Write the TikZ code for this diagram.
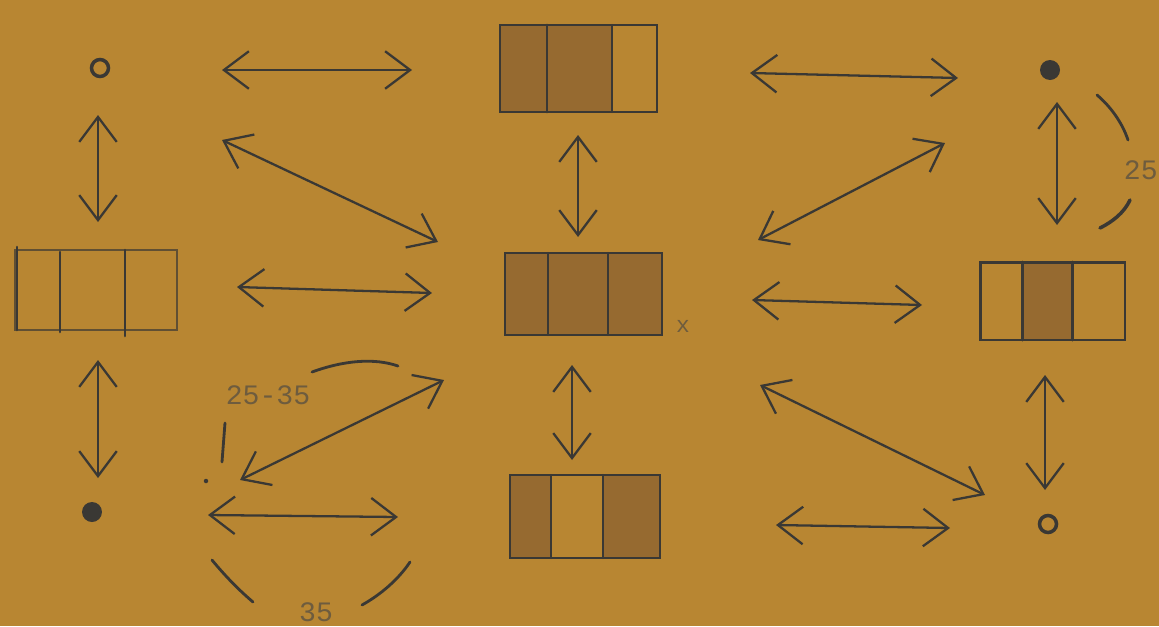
\documentclass[tikz,border=0pt]{standalone}
\usepackage{fontspec}
\setmonofont{Liberation Mono}
\usetikzlibrary{arrows.meta}
\definecolor{paper}{RGB}{184,134,50}
\definecolor{pencil}{RGB}{58,56,52}
\definecolor{cellfill}{RGB}{150,106,48}
\definecolor{typo}{RGB}{110,92,62}
\begin{document}
\begin{tikzpicture}[x=0.02cm,y=-0.02cm,
  pen/.style={draw=pencil, line width=1.2pt, line cap=round, line join=round},
  dbl/.style={pen, line width=1.3pt, {Straight Barb[length=5mm,width=7.5mm]}-{Straight Barb[length=5mm,width=7.5mm]}},
  opendot/.style={circle, draw=pencil, line width=2pt, inner sep=0pt, minimum size=0.34cm},
  fulldot/.style={circle, fill=pencil, inner sep=0pt, minimum size=0.4cm},
  cellbox/.style={draw=pencil, line width=1.3pt, inner sep=0pt},
  lbl/.style={text=typo, font=\fontsize{16}{16}\selectfont\ttfamily, inner sep=0pt},
  arcseg/.style={pen, line width=1.6pt}]
\useasboundingbox (0,0) rectangle (1159,626);
\fill[paper] (0,0) rectangle (1159,626);

% ---- corner dots ----
\node[opendot] (TL) at (100,68) {};
\node[fulldot] (TR) at (1050,70) {};
\node[fulldot] (BL) at (92,512) {};
\node[opendot] (BR) at (1048,524) {};

% ---- top centre box ----
\fill[cellfill] (500,25) rectangle (612,112);
\node[cellbox, minimum width=3.14cm, minimum height=1.74cm] (BT) at (578.5,68.5) {};
\draw[pen, line width=1.6pt] (547,25) -- (547,112);
\draw[pen] (612,25) -- (612,112);

% ---- middle left box ----
\node[draw=pencil!70!paper, line width=0.6pt, inner sep=0pt, minimum width=3.24cm, minimum height=1.6cm] (BL2) at (96,290) {};
\draw[pen, line width=1.5pt] (17,247) -- (17,330);
\draw[pen, line width=1.5pt] (60,252) -- (60,332);
\draw[pen, line width=1.5pt] (125,250) -- (125,336);

% ---- middle centre box ----
\fill[cellfill] (505,253) rectangle (662,335);
\node[cellbox, minimum width=3.14cm, minimum height=1.64cm] (BM) at (583.5,294) {};
\draw[pen] (548,253) -- (548,335);
\draw[pen] (608,253) -- (608,335);
\node[lbl, font=\fontsize{13}{13}\selectfont\ttfamily] (X) at (683,326) {x};

% ---- middle right box ----
\fill[cellfill] (1022,262) rectangle (1072,340);
\node[cellbox, line width=1.7pt, minimum width=2.9cm, minimum height=1.56cm] (BRt) at (1052.5,301) {};
\draw[pen, line width=1.7pt] (1022,262) -- (1022,340);
\draw[pen, line width=1.7pt] (1072,262) -- (1072,340);

% ---- bottom centre box ----
\fill[cellfill] (510,475) rectangle (551,558);
\fill[cellfill] (603,475) rectangle (660,558);
\node[cellbox, minimum width=3cm, minimum height=1.66cm] (BB) at (585,516.5) {};
\draw[pen] (551,475) -- (551,558);
\draw[pen] (603,475) -- (603,558);

% ---- arrow end points ----
\coordinate (a1) at (222,70);   \coordinate (a2) at (412,70);
\coordinate (b1) at (750,73);   \coordinate (b2) at (958,78);
\coordinate (c1) at (98,115);   \coordinate (c2) at (98,222);
\coordinate (d1) at (578,135);  \coordinate (d2) at (578,237);
\coordinate (e1) at (1057,102); \coordinate (e2) at (1057,225);
\coordinate (f1) at (222,140);  \coordinate (f2) at (438,242);
\coordinate (g1) at (945,143);  \coordinate (g2) at (758,240);
\coordinate (h1) at (237,287);  \coordinate (h2) at (432,293);
\coordinate (i1) at (752,300);  \coordinate (i2) at (922,305);
\coordinate (j1) at (98,360);   \coordinate (j2) at (98,478);
\coordinate (k1) at (444,380);  \coordinate (k2) at (240,480);
\coordinate (l1) at (572,365);  \coordinate (l2) at (572,460);
\coordinate (m1) at (760,385);  \coordinate (m2) at (985,495);
\coordinate (n1) at (1045,375); \coordinate (n2) at (1045,490);
\coordinate (o1) at (208,515);  \coordinate (o2) at (398,517);
\coordinate (p1) at (776,525);  \coordinate (p2) at (950,528);

\foreach \s/\t in {a1/a2,b1/b2,c1/c2,d1/d2,e1/e2,f1/f2,g1/g2,h1/h2,i1/i2,j1/j2,k1/k2,l1/l2,m1/m2,n1/n2,o1/o2,p1/p2}
  \draw[dbl] (\s) -- (\t);

% ---- angle arcs and labels ----
\node[lbl] (L1) at (268,395) {25-35};
\node[lbl] (L2) at (316,612) {35};
\node[lbl, anchor=east] (L3) at (1158,170) {25};

\coordinate (q1) at (312,372); \coordinate (q2) at (398,366);
\draw[arcseg] (q1) .. controls (345,360) and (375,358) .. (q2);
\coordinate (q3) at (225,423); \coordinate (q4) at (222,462);
\draw[arcseg] (q3) -- (q4);
\node[fulldot, minimum size=0.09cm] (dot1) at (206,481) {};

\coordinate (r1) at (212,560); \coordinate (r2) at (253,602);
\draw[arcseg] (r1) .. controls (226,577) and (240,591) .. (r2);
\coordinate (r3) at (362,605); \coordinate (r4) at (410,562);
\draw[arcseg] (r3) .. controls (380,595) and (398,580) .. (r4);

\coordinate (s1) at (1097,95); \coordinate (s2) at (1128,140);
\draw[arcseg] (s1) .. controls (1110,106) and (1122,122) .. (s2);
\coordinate (s3) at (1130,200); \coordinate (s4) at (1100,228);
\draw[arcseg, line width=2pt] (s3) .. controls (1124,213) and (1112,222) .. (s4);
\end{tikzpicture}
\end{document}
